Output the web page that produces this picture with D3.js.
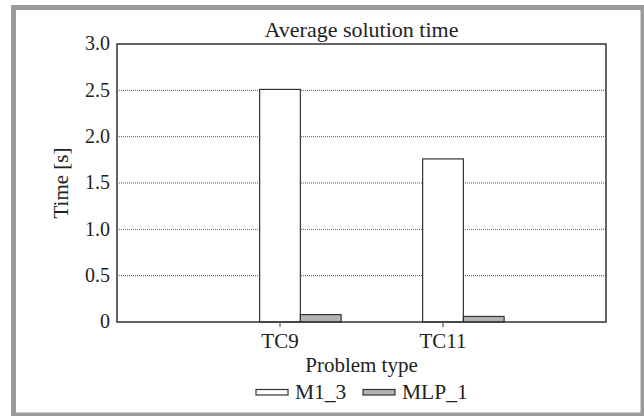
<!DOCTYPE html>
<html>
<head>
<meta charset="utf-8">
<script src="https://cdn.jsdelivr.net/npm/d3@7"></script>
<style>
  body { margin: 0; background: #fff; }
</style>
</head>
<body>
<svg width="644" height="416" font-family="'Liberation Serif', 'DejaVu Serif', serif"></svg>
<script>
'use strict';

var categories = ['TC9', 'TC11'];
var seriesNames = ['M1_3', 'MLP_1'];
var m13Values = [2.51, 1.76];
var mlp1Values = [0.08, 0.06];
var yTicks = [0, 0.5, 1.0, 1.5, 2.0, 2.5, 3.0];
var yTickLabels = ['0', '0.5', '1.0', '1.5', '2.0', '2.5', '3.0'];
var seriesFill = ['#ffffff', '#b3b3b3'];

function render() {
    var svg = d3.select('svg');
    var ink = '#222';

    // gray frame around the whole figure
    svg.append('rect')
        .attr('x', 13.5).attr('y', 7.5)
        .attr('width', 629.5).attr('height', 407.5)
        .attr('fill', 'none').attr('stroke', '#9a9a9a').attr('stroke-width', 5);

    var pLeft = 117, pRight = 606, pTop = 44, pBottom = 322;

    var x = d3.scaleLinear().domain([0, categories.length + 1]).range([pLeft, pRight]);
    var y = d3.scaleLinear().domain([0, 3]).range([pBottom, pTop]);
    var barW = 0.25;

    // dotted grid lines
    svg.append('g').selectAll('line')
        .data(yTicks.filter(function (d) { return d > 0 && d < 3; }))
        .enter().append('line')
        .attr('x1', pLeft).attr('x2', pRight)
        .attr('y1', function (d) { return y(d); })
        .attr('y2', function (d) { return y(d); })
        .attr('stroke', '#555').attr('stroke-width', 1)
        .attr('stroke-dasharray', '1,1');

    // bars
    var series = [m13Values, mlp1Values];
    series.forEach(function (vals, s) {
        svg.append('g').selectAll('rect')
            .data(vals)
            .enter().append('rect')
            .attr('x', function (d, i) { return x(i + 1 - barW / 2 + s * barW); })
            .attr('y', function (d) { return y(d); })
            .attr('width', x(barW) - x(0))
            .attr('height', function (d) { return y(0) - y(d); })
            .attr('fill', seriesFill[s])
            .attr('stroke', '#333').attr('stroke-width', 1.2);
    });

    // plot box
    svg.append('rect')
        .attr('x', pLeft).attr('y', pTop)
        .attr('width', pRight - pLeft).attr('height', pBottom - pTop)
        .attr('fill', 'none').attr('stroke', '#333').attr('stroke-width', 1.5);

    // y axis labels
    svg.append('g').selectAll('text')
        .data(yTicks)
        .enter().append('text')
        .attr('x', pLeft - 7)
        .attr('y', function (d) { return y(d); })
        .attr('dy', '0.32em')
        .attr('text-anchor', 'end')
        .attr('font-size', 20).attr('fill', ink)
        .text(function (d, i) { return yTickLabels[i]; });

    // x ticks and labels
    var xg = svg.append('g');
    xg.selectAll('line')
        .data(categories)
        .enter().append('line')
        .attr('x1', function (d, i) { return x(i + 1); })
        .attr('x2', function (d, i) { return x(i + 1); })
        .attr('y1', pBottom).attr('y2', pBottom + 5)
        .attr('stroke', '#555').attr('stroke-width', 1.2);
    xg.selectAll('text')
        .data(categories)
        .enter().append('text')
        .attr('x', function (d, i) { return x(i + 1); })
        .attr('y', 348)
        .attr('text-anchor', 'middle')
        .attr('font-size', 21).attr('fill', ink)
        .text(function (d) { return d; });

    // titles
    svg.append('text')
        .attr('x', (pLeft + pRight) / 2).attr('y', 36.5)
        .attr('text-anchor', 'middle').attr('font-size', 22).attr('fill', ink)
        .text('Average solution time');

    svg.append('text')
        .attr('x', (pLeft + pRight) / 2).attr('y', 371.5)
        .attr('text-anchor', 'middle').attr('font-size', 21).attr('fill', ink)
        .text('Problem type');

    svg.append('text')
        .attr('transform', 'translate(68,' + (pTop + pBottom) / 2 + ') rotate(-90)')
        .attr('text-anchor', 'middle').attr('font-size', 21).attr('fill', ink)
        .text('Time [s]');

    // legend
    var legendX = [256, 363];
    var lg = svg.append('g').selectAll('g')
        .data(seriesNames)
        .enter().append('g')
        .attr('transform', function (d, i) { return 'translate(' + legendX[i] + ',0)'; });
    lg.append('rect')
        .attr('x', 0).attr('y', 389.5)
        .attr('width', 32).attr('height', 5.5)
        .attr('fill', function (d, i) { return seriesFill[i]; })
        .attr('stroke', '#333').attr('stroke-width', 1.2);
    lg.append('text')
        .attr('x', 39).attr('y', 398.5)
        .attr('font-size', 21.5).attr('fill', ink)
        .text(function (d) { return d; });
}

render();
</script>
</body>
</html>
